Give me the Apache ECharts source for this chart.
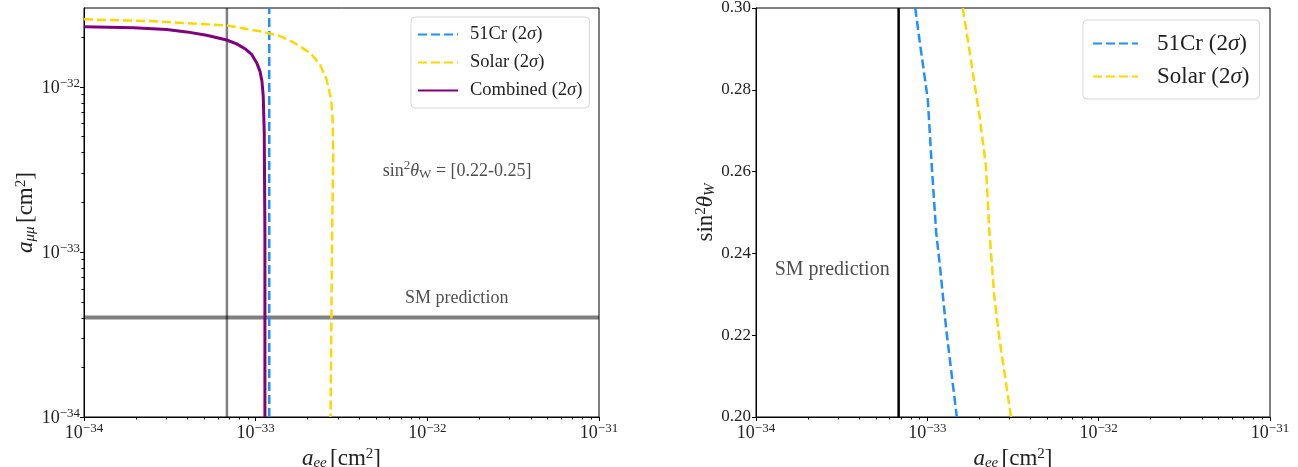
<!DOCTYPE html>
<html>
<head>
<meta charset="utf-8">
<script src="https://cdn.jsdelivr.net/npm/echarts@6/dist/echarts.min.js"></script>
<style>html,body{margin:0;padding:0;background:#fff;}#c{width:1298px;height:467px;}</style>
</head>
<body>
<div id="c"></div>
<script>
// ---------- data (real values, cm^2) ----------
// Left panel: a_ee vs a_mumu (log-log)
const smAee = 6.8e-34;          // SM prediction a_ee
const smAmumu = 4.0e-34;        // SM prediction a_mumu
const cr51Aee = 1.2e-33;        // 51Cr bound (vertical)
const leftXRange = [1e-34, 1e-31];
const leftYRange = [1e-34, 3e-32];

const solarLeftX = [1e-34, 2.42e-34, 6.78e-34, 1.06e-33, 1.385e-33, 1.656e-33, 2.07e-33, 2.37e-33, 2.59e-33, 2.75e-33, 2.81e-33, 2.83e-33, 2.79e-33, 2.73e-33];
const solarLeftY = [2.56e-32, 2.5e-32, 2.35e-32, 2.17e-32, 2.03e-32, 1.86e-32, 1.61e-32, 1.365e-32, 1.107e-32, 8.4e-33, 6.3e-33, 3.8e-33, 1.36e-33, 1e-34];

const combinedX = [1.0e-34, 1.94e-34, 3.03e-34, 3.96e-34, 5.18e-34, 6.78e-34, 7.75e-34, 8.66e-34, 9.48e-34, 1.013e-33, 1.06e-33, 1.088e-33, 1.107e-33, 1.122e-33, 1.132e-33, 1.132e-33];
const combinedY = [2.31e-32, 2.28e-32, 2.22e-32, 2.15e-32, 2.05e-32, 1.92e-32, 1.82e-32, 1.70e-32, 1.57e-32, 1.40e-32, 1.24e-32, 1.08e-32, 8.77e-33, 5.26e-33, 1.30e-33, 1e-34];

// Right panel: a_ee vs sin^2 theta_W
const rightXRange = [1e-34, 1e-31];
const rightYRange = [0.20, 0.30];
const smRightAee = 6.8e-34;
const cr51RightX = [8.5e-34, 9.0e-34, 1.007e-33, 1.062e-33, 1.127e-33, 1.18e-33, 1.29e-33, 1.486e-33];
const cr51RightY = [0.300, 0.2922, 0.2775, 0.2612, 0.245, 0.2376, 0.2213, 0.200];
const solarRightX = [1.61e-33, 1.76e-33, 2.02e-33, 2.2e-33, 2.3e-33, 2.46e-33, 2.64e-33, 3.08e-33];
const solarRightY = [0.300, 0.2897, 0.2734, 0.2612, 0.2457, 0.2294, 0.2189, 0.200];

// tick helpers
const logDecades = [-34, -33, -32];
const minorMantissas = [2, 3, 4, 5, 6, 7, 8, 9];
const rightYTicks = [0.20, 0.22, 0.24, 0.26, 0.28, 0.30];

const names = { cr: '51Cr (2σ)', solar: 'Solar (2σ)', comb: 'Combined (2σ)' };

// ECharts rounds tiny numbers to 20 decimals, so log axes work in units of 1e-34 cm^2
const UNIT_EXP = -34;
const UNIT = 1e-34;
const s = v => v / UNIT;

// ---------- helpers ----------
const FONT = '"Liberation Serif", "DejaVu Serif", serif';
const TXT = '#222';
const zipS = (a, b, sx, sy) => a.map((v, i) => [sx ? s(v) : v, sy ? s(b[i]) : b[i]]);

function minorList(maxVal) {
  const out = [];
  logDecades.forEach(d => minorMantissas.forEach(m => {
    const v = m * Math.pow(10, d);
    if (v < maxVal * 0.999) out.push(s(v));
  }));
  return out;
}

function powLabel(v) {
  const e = Math.log10(v);
  const r = Math.round(e);
  if (Math.abs(e - r) > 1e-6) return '';
  const ex = r + UNIT_EXP;
  return '{b|10}{s|' + (ex < 0 ? '−' : '') + Math.abs(ex) + '}';
}
const tickRich = {
  b: { fontSize: 18, fontFamily: FONT, color: TXT, lineHeight: 20, verticalAlign: 'bottom' },
  s: { fontSize: 13, fontFamily: FONT, color: TXT, lineHeight: 10, verticalAlign: 'top' }
};
const nameRich = {
  i: { fontSize: 23, fontFamily: FONT, color: TXT, fontStyle: 'italic', lineHeight: 24, verticalAlign: 'bottom' },
  n: { fontSize: 23, fontFamily: FONT, color: TXT, lineHeight: 24, verticalAlign: 'bottom' },
  sub: { fontSize: 15, fontFamily: FONT, color: TXT, fontStyle: 'italic', lineHeight: 12, verticalAlign: 'bottom' },
  sup: { fontSize: 15, fontFamily: FONT, color: TXT, lineHeight: 12, verticalAlign: 'top' }
};
const annRich = (fs) => ({
  n: { fontSize: fs, fontFamily: FONT, color: TXT, lineHeight: fs + 4, verticalAlign: 'bottom' },
  i: { fontSize: fs, fontFamily: FONT, color: TXT, fontStyle: 'italic', lineHeight: fs + 4, verticalAlign: 'bottom' },
  sup: { fontSize: Math.round(fs * 0.7), fontFamily: FONT, color: TXT, lineHeight: 10, verticalAlign: 'top' },
  sub: { fontSize: Math.round(fs * 0.7), fontFamily: FONT, color: TXT, lineHeight: 10, verticalAlign: 'bottom' }
});

function logX(gridIdx, range) {
  return {
    type: 'log', logBase: 10, gridIndex: gridIdx, min: s(range[0]), max: s(range[1]),
    name: '{i|a}{sub|ee} {n|[cm}{sup|2}{n|]}', nameLocation: 'middle', nameGap: 24,
    nameTextStyle: { rich: nameRich },
    axisLine: { show: true, onZero: false, lineStyle: { color: '#000', width: 1 } },
    axisTick: { show: true, inside: false, length: 4, lineStyle: { color: '#000' } },
    axisLabel: { formatter: powLabel, rich: tickRich, margin: 5, showMinLabel: true, showMaxLabel: true },
    splitLine: { show: false }
  };
}

function minorTickSeries(xi, yi, vals, orient, base) {
  return {
    type: 'custom', xAxisIndex: xi, yAxisIndex: yi, silent: true, clip: false, z: 10,
    data: vals.map(v => orient === 'x' ? [v, base] : [base, v]),
    renderItem: (params, api) => {
      const p = api.coord([api.value(0), api.value(1)]);
      if (orient === 'x') {
        const x = Math.round(p[0]) + 0.5;
        return { type: 'line', shape: { x1: x, y1: p[1], x2: x, y2: p[1] + 2.5 }, style: { stroke: '#000', lineWidth: 1 } };
      }
      const y = Math.round(p[1]) + 0.5;
      return { type: 'line', shape: { x1: p[0], y1: y, x2: p[0] - 2.5, y2: y }, style: { stroke: '#000', lineWidth: 1 } };
    }
  };
}

function lineSeries(name, xi, yi, data, color, width, dashed, z) {
  return {
    name: name, type: 'line', xAxisIndex: xi, yAxisIndex: yi, data: data,
    showSymbol: false, symbol: 'none', smooth: false, z: z || 3,
    lineStyle: { color: color, width: width, type: dashed ? [9, 4] : 'solid' },
    itemStyle: { color: color },
    emphasis: { disabled: true }
  };
}

function annot(xi, yi, point, text, fs) {
  return {
    type: 'scatter', xAxisIndex: xi, yAxisIndex: yi, symbolSize: 0, silent: true, z: 5,
    data: [point],
    label: { show: true, position: [0, 0], align: 'left', verticalAlign: 'middle', formatter: text, rich: annRich(fs) }
  };
}

const legendCommon = {
  orient: 'vertical', backgroundColor: '#fff', borderColor: '#d6d6d6', borderWidth: 1, borderRadius: 4,
  itemStyle: { opacity: 0, color: 'rgba(0,0,0,0)', borderWidth: 0 },
  formatter: n => n.replace('σ', '{i|σ}'),
  selectedMode: false
};

const chart = echarts.init(document.getElementById('c'), null, { renderer: 'canvas' });
const option = {
  animation: false,
  backgroundColor: '#fff',
  grid: [
    { left: 84, top: 8, width: 515, height: 409, show: true, borderColor: '#000', borderWidth: 1, containLabel: false, outerBoundsMode: 'none' },
    { left: 756, top: 8, width: 514, height: 409, show: true, borderColor: '#000', borderWidth: 1, containLabel: false, outerBoundsMode: 'none' }
  ],
  xAxis: [logX(0, leftXRange), logX(1, rightXRange)],
  yAxis: [
    {
      type: 'log', logBase: 10, gridIndex: 0, min: s(leftYRange[0]), max: s(leftYRange[1]),
      name: '{i|a}{sub|μμ} {n|[cm}{sup|2}{n|]}', nameLocation: 'middle', nameGap: 44, nameRotate: 90,
      nameTextStyle: { rich: nameRich },
      axisLine: { show: true, onZero: false, lineStyle: { color: '#000', width: 1 } },
      axisTick: { show: true, inside: false, length: 4, lineStyle: { color: '#000' } },
      axisLabel: { formatter: powLabel, rich: tickRich, margin: 4, showMaxLabel: false },
      splitLine: { show: false }
    },
    {
      type: 'value', gridIndex: 1, min: rightYRange[0], max: rightYRange[1], interval: 0.02,
      name: '{n|sin}{sup|2}{i|θ}{sub|W}', nameLocation: 'middle', nameGap: 34, nameRotate: 90,
      nameTextStyle: { rich: nameRich },
      axisLine: { show: true, onZero: false, lineStyle: { color: '#000', width: 1 } },
      axisTick: { show: true, inside: false, length: 4, lineStyle: { color: '#000' } },
      axisLabel: { formatter: v => rightYTicks.some(t => Math.abs(t - v) < 1e-9) ? v.toFixed(2) : '', fontSize: 17, fontFamily: FONT, color: TXT, margin: 5 },
      splitLine: { show: false }
    }
  ],
  legend: [
    Object.assign({}, legendCommon, {
      left: 411, top: 17, itemWidth: 40, itemHeight: 12, itemGap: 9,
      padding: [8, 7, 8, 6],
      data: [names.cr, names.solar, names.comb],
      textStyle: { fontSize: 18.5, fontFamily: FONT, color: TXT, lineHeight: 18, padding: [0, 0, 0, 7],
        rich: { i: { fontSize: 18.5, fontFamily: FONT, color: TXT, fontStyle: 'italic' } } }
    }),
    Object.assign({}, legendCommon, {
      left: 1083, top: 20, itemWidth: 45, itemHeight: 14, itemGap: 10,
      padding: [12, 10, 11, 9],
      data: [names.cr, names.solar],
      textStyle: { fontSize: 23, fontFamily: FONT, color: TXT, lineHeight: 22, padding: [0, 0, 0, 14],
        rich: { i: { fontSize: 23, fontFamily: FONT, color: TXT, fontStyle: 'italic' } } }
    })
  ],
  series: [
    // left panel
    lineSeries('smV', 0, 0, [[s(smAee), s(leftYRange[0])], [s(smAee), s(leftYRange[1])]], 'rgba(0,0,0,0.5)', 2.5, false, 1),
    lineSeries('smH', 0, 0, [[s(leftXRange[0]), s(smAmumu)], [s(leftXRange[1]), s(smAmumu)]], 'rgba(0,0,0,0.5)', 4, false, 1),
    lineSeries(names.comb, 0, 0, zipS(combinedX, combinedY, true, true), '#800080', 3, false, 3),
    lineSeries(names.cr, 0, 0, [[s(cr51Aee), s(leftYRange[0])], [s(cr51Aee), s(leftYRange[1])]], '#1E90FF', 2.5, true, 4),
    lineSeries(names.solar, 0, 0, zipS(solarLeftX, solarLeftY, true, true), '#FFD700', 2.5, true, 4),
    annot(0, 0, [s(7.4e-33), s(5.36e-34)], '{n|SM prediction}', 18),
    annot(0, 0, [s(5.5e-33), s(3.15e-33)], '{n|sin}{sup|2}{i|θ}{sub|W}{n| = [0.22-0.25]}', 18),
    minorTickSeries(0, 0, minorList(leftXRange[1]), 'x', s(leftYRange[0])),
    minorTickSeries(0, 0, minorList(leftYRange[1]), 'y', s(leftXRange[0])),
    // right panel
    lineSeries('smR', 1, 1, [[s(smRightAee), rightYRange[0]], [s(smRightAee), rightYRange[1]]], '#000', 2.5, false, 2),
    lineSeries(names.cr, 1, 1, zipS(cr51RightX, cr51RightY, true, false), '#1E90FF', 2.5, true, 4),
    lineSeries(names.solar, 1, 1, zipS(solarRightX, solarRightY, true, false), '#FFD700', 2.5, true, 4),
    annot(1, 1, [s(1.285e-34), 0.2364], '{n|SM prediction}', 20),
    minorTickSeries(1, 1, minorList(rightXRange[1]), 'x', rightYRange[0])
  ]
};
chart.setOption(option);
</script>
</body>
</html>
